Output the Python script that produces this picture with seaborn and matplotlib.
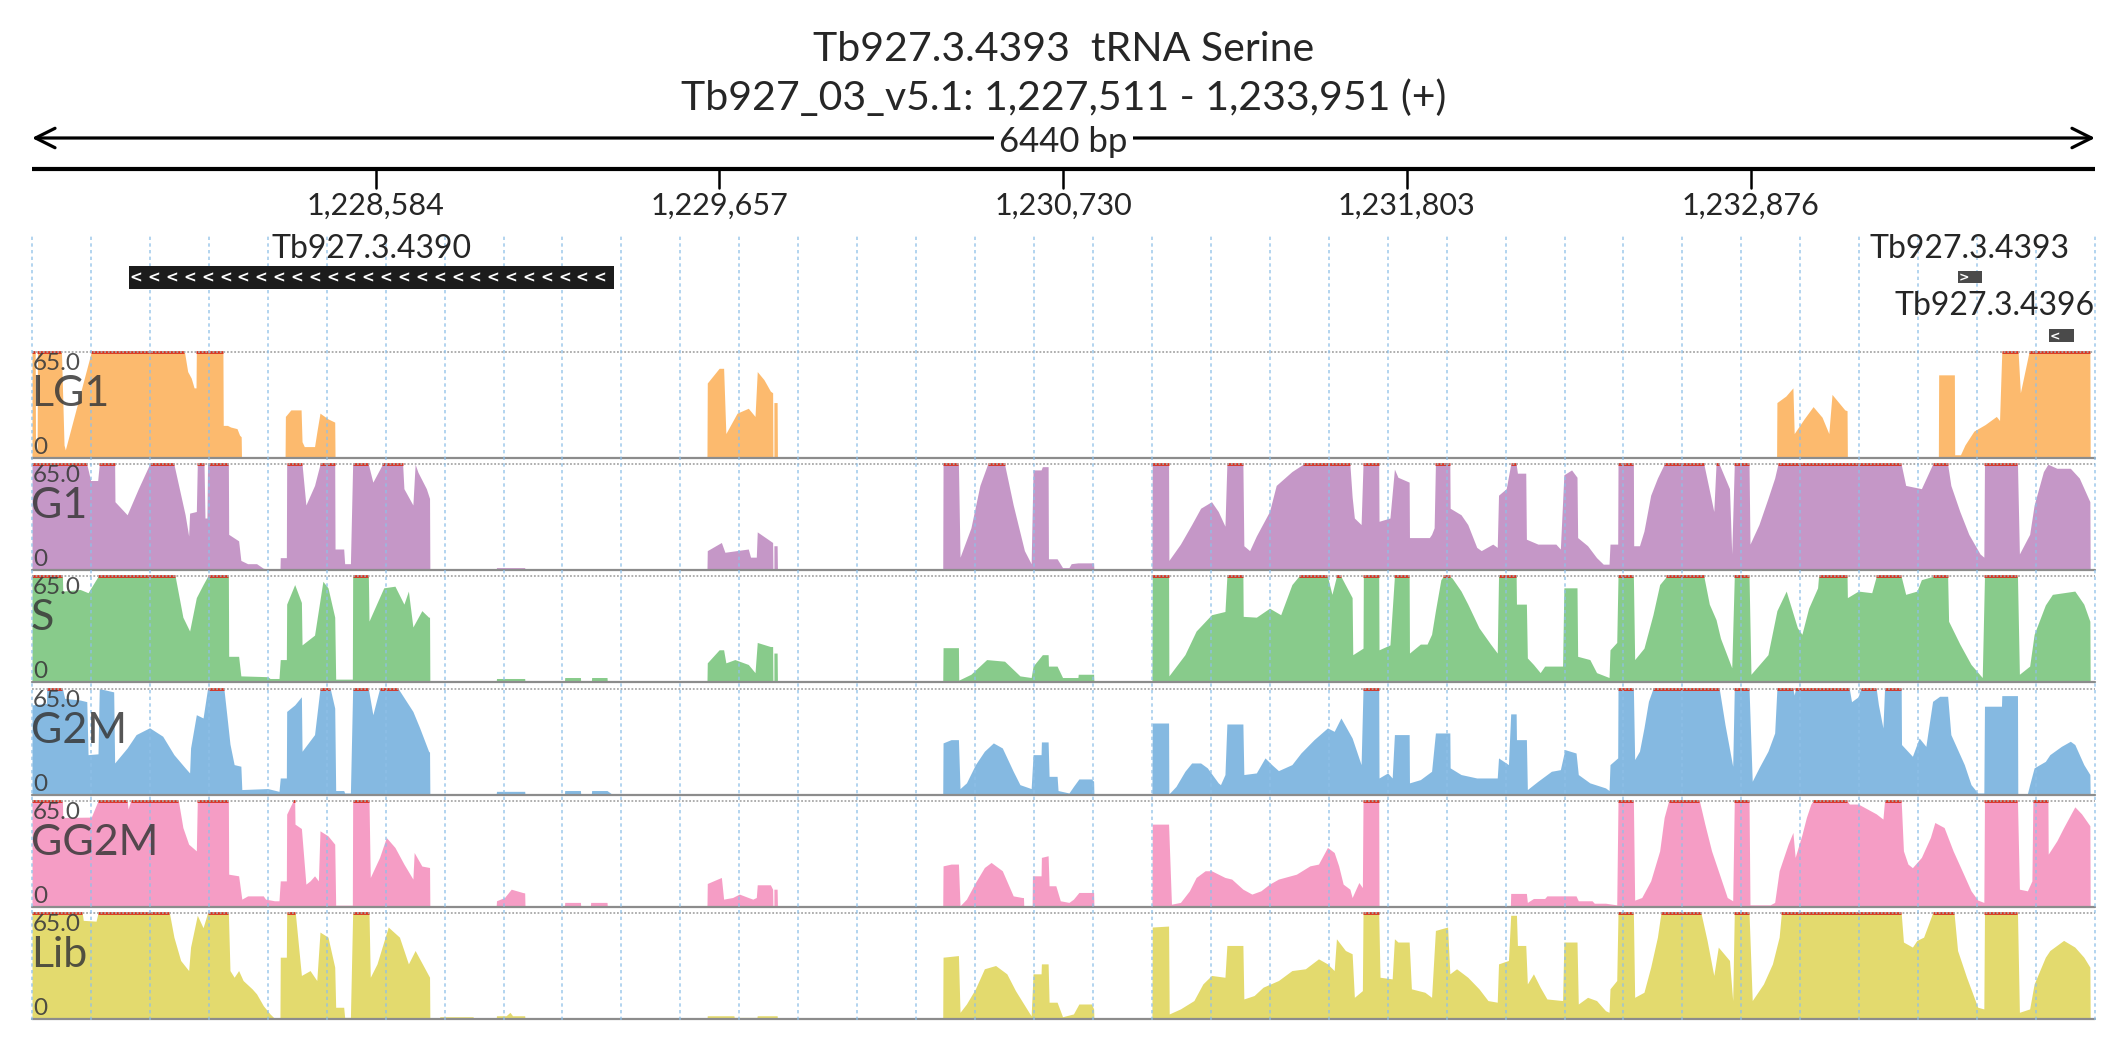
import numpy as np
import matplotlib
matplotlib.use("Agg")
import matplotlib.pyplot as plt
import seaborn as sns

sns.set_style("white")
plt.rcParams['font.family'] = ['Lato', 'DejaVu Sans']

# region shown
START, END = 1227511, 1233951
SPAN = END - START
title_1 = "Tb927.3.4393  tRNA Serine"
title_2 = "Tb927_03_v5.1: 1,227,511 - 1,233,951 (+)"
tick_coords = [1228584, 1229657, 1230730, 1231803, 1232876]

# genes
gene_names = ["Tb927.3.4390", "Tb927.3.4393", "Tb927.3.4396"]
gene_start = [1227814, 1233523, 1233808]
gene_end = [1229328, 1233598, 1233886]
gene_strand = ["-", "+", "-"]

# coverage tracks: (bp offset from START, coverage), max shown 65
track_names = ["LG1", "G1", "S", "G2M", "GG2M", "Lib"]
track_colors = ["#fcb766", "#c292c4", "#82c985", "#7eb6e0", "#f598c2", "#e2d866"]

lg1 = [(0, 65), (10, 65), (11, 5), (16, 5), (17, 65), (92, 65), (100, 8), (104, 5), (185, 65), (476, 65),
       (486, 53), (497, 49), (506, 43), (512, 43), (513, 65),
       (596, 65), (597, 20), (610, 20), (620, 19), (640, 18), (648, 14), (653, 13), (654, 0),
       (790, 0), (791, 25.5), (808, 29.5), (840, 29.5), (843, 10), (850, 7), (882, 7), (890, 17), (899, 27.5),
       (924, 24), (945, 22), (946, 0),
       (2107, 0), (2108, 46), (2145, 55), (2159, 55), (2166, 15), (2201, 27.5), (2236, 30.5), (2257, 25.5),
       (2264, 53), (2285, 48), (2305, 41), (2312, 40), (2313, 0), (2316, 0), (2316, 34), (2326, 34), (2327, 0),
       (5446, 0), (5447, 34), (5475, 38), (5497, 43), (5501, 15), (5532, 24), (5560, 31.5), (5588, 25),
       (5609, 15), (5619, 39), (5659, 29.5), (5666, 29), (5667, 0),
       (5951, 0), (5952, 51), (6001, 51), (6002, 2), (6020, 2), (6034, 8), (6062, 16.5), (6097, 20.5),
       (6132, 25.5), (6142, 23), (6149, 65), (6200, 65), (6207, 40), (6234, 65), (6424, 65), (6425, 0)]

g1 = [(0, 65), (171, 65), (183, 55), (205, 55), (210, 65), (258, 65), (259, 42), (297, 34), (332, 50), (367, 65),
      (443, 65), (478, 34), (489, 21), (492, 35), (513, 36), (516, 65), (537, 65), (540, 32), (546, 32), (548, 65),
      (613, 65), (614, 22), (645, 18), (652, 6), (673, 4), (701, 4), (722, 1.2), (729, 1), (730, 0),
      (774, 0), (775, 7.7), (794, 7.7), (795, 65), (843, 65), (855, 40), (882, 52), (899, 65), (945, 65),
      (946, 13), (973, 13), (976, 4), (994, 4), (1001, 65), (1050, 65), (1064, 54), (1094, 65), (1157, 65),
      (1161, 50), (1189, 40), (1196, 65), (1205, 60), (1231, 50), (1241, 44), (1242, 0),
      (1449, 0), (1450, 1.6), (1538, 1.6), (1539, 0),
      (2107, 0), (2108, 12), (2152, 17), (2163, 11), (2236, 13), (2243, 8), (2261, 8), (2264, 23.5), (2312, 17),
      (2313, 0), (2316, 0), (2316, 15), (2326, 15), (2327, 0),
      (2843, 0), (2844, 65), (2892, 65), (2897, 8), (2931, 26), (2959, 52), (2983, 65), (3036, 65), (3063, 40),
      (3098, 12), (3119, 4), (3125, 61.5), (3150, 61.5), (3154, 63.5), (3172, 63.5), (3173, 7), (3200, 7),
      (3217, 1.6), (3237, 1.6), (3244, 4), (3265, 4.5), (3314, 4.5), (3315, 0),
      (3496, 0), (3497, 65), (3548, 65), (3549, 6), (3585, 16), (3620, 28), (3648, 38), (3682, 42), (3703, 36),
      (3724, 27), (3730, 65), (3780, 65), (3783, 15), (3801, 12), (3822, 21), (3863, 36), (3884, 52),
      (3933, 60.5), (3968, 65), (4114, 65), (4121, 45), (4128, 32), (4149, 28), (4155, 65), (4204, 65),
      (4205, 30), (4239, 32), (4253, 62), (4264, 57), (4299, 54), (4300, 20), (4362, 20), (4369, 22),
      (4377, 26), (4381, 65), (4426, 65), (4427, 38), (4461, 34), (4482, 28), (4510, 14), (4524, 12),
      (4560, 16), (4574, 14), (4578, 46), (4602, 50), (4616, 65), (4633, 65), (4637, 59.5), (4663, 59.5),
      (4665, 19), (4701, 16), (4757, 16), (4771, 13), (4782, 58.5), (4806, 61.5), (4823, 57), (4825, 20),
      (4856, 15), (4884, 7.7), (4905, 3.7), (4923, 3.7), (4926, 16), (4950, 16), (4951, 65), (4999, 65),
      (5000, 15), (5018, 15), (5032, 24), (5053, 46), (5074, 56.5), (5095, 65), (5219, 65), (5233, 52),
      (5250, 36), (5257, 65), (5267, 65), (5299, 50), (5306, 10), (5314, 65), (5360, 65), (5363, 16),
      (5391, 28), (5419, 44), (5440, 56.5), (5450, 65), (5835, 65), (5849, 52), (5898, 50), (5933, 65),
      (5980, 65), (5990, 52), (6018, 36), (6046, 22), (6081, 10), (6093, 8), (6095, 65), (6198, 65),
      (6204, 10), (6236, 22), (6250, 40), (6279, 60.5), (6293, 65), (6321, 62.5), (6363, 62.5), (6391, 56.5),
      (6424, 42), (6425, 0)]

s = [(0, 65), (95, 65), (96, 56), (150, 57), (175, 55), (206, 65), (447, 65), (471, 40), (492, 31.5), (513, 52),
     (534, 60), (548, 65), (613, 65), (614, 16), (645, 16), (652, 4), (736, 3.5), (743, 2.4), (771, 2.4),
     (775, 14), (794, 14), (795, 48), (820, 60), (841, 49), (843, 23), (882, 29), (908, 62), (924, 58),
     (945, 40), (948, 2), (1000, 2), (1001, 65), (1050, 65), (1052, 37.6), (1098, 58), (1133, 59), (1161, 48),
     (1175, 56), (1189, 34), (1217, 44), (1238, 40), (1241, 40), (1242, 0),
     (1449, 0), (1450, 2.4), (1538, 2.4), (1539, 0), (1662, 0), (1663, 3), (1712, 3), (1713, 0),
     (1746, 0), (1747, 3), (1795, 3), (1796, 0),
     (2107, 0), (2108, 12), (2145, 20), (2159, 20), (2166, 12), (2194, 14), (2236, 11), (2257, 6), (2264, 24.5),
     (2305, 22), (2312, 22), (2313, 0), (2316, 0), (2316, 18), (2326, 18), (2327, 0),
     (2843, 0), (2844, 21.3), (2892, 21.3), (2893, 1.4), (2931, 5), (2980, 14), (3036, 13), (3084, 4),
     (3119, 3), (3125, 10), (3154, 17), (3172, 17), (3173, 10), (3200, 10), (3217, 3), (3265, 3), (3266, 5),
     (3314, 5), (3315, 0),
     (3496, 0), (3497, 65), (3548, 65), (3549, 4), (3599, 17), (3634, 31.5), (3682, 41.5), (3724, 43.5),
     (3730, 65), (3780, 65), (3781, 40.5), (3822, 40), (3863, 45.5), (3898, 41.5), (3933, 60), (3954, 65),
     (4044, 65), (4058, 54), (4072, 65), (4086, 65), (4121, 52), (4123, 17), (4155, 21), (4156, 65),
     (4204, 65), (4205, 20), (4239, 23), (4253, 65), (4299, 65), (4300, 18), (4334, 23.5), (4355, 23.5),
     (4369, 29.5), (4381, 44), (4398, 63), (4405, 65), (4426, 65), (4433, 64), (4461, 56), (4482, 48),
     (4517, 33.5), (4553, 23.5), (4574, 18), (4578, 65), (4633, 65), (4634, 48), (4665, 48), (4668, 15),
     (4687, 11), (4708, 6), (4722, 10), (4778, 10), (4782, 58), (4823, 58), (4825, 16), (4863, 14),
     (4884, 6), (4923, 3), (4926, 20), (4947, 24.5), (4951, 65), (4999, 65), (5003, 14), (5032, 21),
     (5060, 41.5), (5081, 60), (5102, 65), (5219, 65), (5236, 48), (5257, 38.5), (5271, 27), (5306, 9),
     (5314, 65), (5360, 65), (5366, 5), (5419, 17), (5447, 44), (5476, 56), (5511, 33.5), (5525, 29.5),
     (5546, 45.5), (5574, 58), (5577, 65), (5666, 65), (5667, 52), (5701, 56), (5743, 55), (5757, 65),
     (5835, 65), (5849, 54), (5884, 56), (5898, 63), (5933, 65), (5980, 65), (5983, 37.5), (6018, 23.5),
     (6053, 11), (6088, 3), (6095, 65), (6198, 65), (6204, 5), (6236, 10), (6250, 29.5), (6285, 47.5),
     (6307, 54), (6377, 56), (6405, 48), (6424, 37.5), (6425, 0)]

g2m = [(0, 55), (45, 56), (46, 65), (95, 65), (102, 59), (150, 58), (171, 57), (175, 24.5), (206, 25), (210, 65),
       (255, 63), (258, 19.4), (297, 28.6), (325, 36.8), (367, 41), (408, 35.8), (443, 24.5), (478, 16.4),
       (492, 13.3), (495, 28.6), (513, 49), (534, 47), (548, 65), (599, 65), (608, 49), (618, 31), (631, 18.4),
       (652, 17.4), (655, 3.1), (736, 3.7), (771, 2), (775, 10.2), (794, 10.2), (795, 51), (820, 55), (841, 60),
       (843, 26.6), (882, 36.8), (899, 65), (931, 65), (945, 53), (948, 2.5), (973, 2.5), (976, 1), (994, 1),
       (1001, 65), (1050, 65), (1064, 49), (1085, 65), (1143, 65), (1189, 51), (1210, 41), (1238, 26.6),
       (1241, 26), (1242, 0),
       (1449, 0), (1450, 2), (1538, 2), (1539, 0), (1662, 0), (1663, 2.5), (1712, 2.5), (1713, 0),
       (1746, 0), (1747, 2.5), (1795, 2.5), (1809, 0.5), (1810, 0),
       (2843, 0), (2844, 31.7), (2869, 33.7), (2892, 33.7), (2897, 3.7), (2917, 7.2), (2945, 18.4), (2973, 26.6),
       (3001, 31.7), (3029, 28.6), (3063, 14.3), (3084, 6.1), (3119, 3.7), (3125, 24.5), (3150, 24.5),
       (3151, 32.3), (3172, 32.3), (3175, 11.2), (3200, 11.2), (3203, 2.5), (3237, 1), (3251, 5), (3268, 9.6),
       (3307, 9.6), (3314, 8.2), (3315, 0),
       (3496, 0), (3497, 43.9), (3548, 43.9), (3549, 0.4), (3571, 5), (3599, 14.3), (3620, 19.4), (3648, 19.4),
       (3669, 16.4), (3703, 7.2), (3710, 6.1), (3724, 12.3), (3730, 43.3), (3780, 43.3), (3783, 12.3),
       (3822, 13.3), (3849, 22.5), (3870, 18.4), (3891, 14.7), (3933, 18.4), (3961, 25.5), (4002, 33.7),
       (4044, 40.9), (4065, 38.8), (4086, 47), (4121, 34.7), (4149, 18.4), (4155, 65), (4204, 65), (4205, 10.2),
       (4232, 13.3), (4246, 10.2), (4253, 36.8), (4299, 36.8), (4300, 7.2), (4334, 9.2), (4369, 14.3),
       (4381, 37.8), (4426, 37.8), (4427, 16.4), (4461, 12.3), (4510, 10.2), (4574, 10.2), (4578, 22.5),
       (4609, 18.4), (4616, 49.5), (4633, 49.5), (4634, 33.7), (4665, 33.7), (4668, 3.1), (4701, 8.2),
       (4743, 14.3), (4771, 15.3), (4785, 27.6), (4820, 25.5), (4827, 12.3), (4863, 7.2), (4912, 4.1),
       (4923, 2.5), (4926, 18.4), (4950, 22.5), (4951, 65), (4999, 65), (5003, 21.5), (5018, 26.6),
       (5032, 40.9), (5046, 57.2), (5060, 65), (5267, 65), (5285, 42.9), (5309, 17.4), (5314, 65), (5360, 65),
       (5370, 8.2), (5391, 16.4), (5419, 26.6), (5440, 37.8), (5447, 65), (5497, 65), (5501, 61), (5505, 65),
       (5673, 65), (5680, 57), (5701, 60), (5708, 65), (5757, 65), (5764, 55), (5778, 40.9), (5783, 65),
       (5835, 65), (5836, 30.7), (5870, 23.5), (5891, 34.7), (5912, 29.6), (5933, 57.2), (5955, 60.3),
       (5980, 60.3), (5990, 36.8), (6011, 27.6), (6032, 18.4), (6053, 6.1), (6074, 1), (6093, 1), (6095, 54.2),
       (6148, 54.2), (6149, 60.7), (6198, 60.7), (6199, 0.6), (6229, 0.6), (6236, 6.1), (6250, 16.4),
       (6285, 20.4), (6299, 24.5), (6335, 29.6), (6363, 32.7), (6377, 30.7), (6405, 18.4), (6424, 12.3),
       (6425, 0)]

gg2m = [(0, 65), (95, 65), (96, 54.8), (185, 55), (206, 65), (297, 65), (300, 60), (308, 65), (457, 65),
        (471, 48.6), (489, 38.4), (513, 34.3), (516, 65), (613, 65), (614, 20), (645, 19), (655, 4.7),
        (673, 6.7), (722, 6.7), (729, 4.7), (757, 3.7), (771, 3.7), (775, 15.9), (794, 15.9), (795, 56.8),
        (815, 65), (820, 65), (821, 50.7), (841, 48), (855, 13.9), (868, 15.9), (882, 19), (894, 15.9),
        (899, 46.6), (924, 43.5), (945, 38.4), (948, 1), (1000, 1), (1001, 65), (1052, 65), (1056, 18),
        (1085, 30.3), (1106, 42.5), (1133, 36.4), (1161, 26.2), (1189, 17), (1193, 33.3), (1217, 25),
        (1241, 24.1), (1242, 0),
        (1449, 0), (1450, 3.7), (1475, 5.7), (1496, 10.8), (1531, 8.8), (1538, 8.5), (1539, 0),
        (1662, 0), (1663, 2.7), (1712, 2.7), (1713, 0), (1743, 0), (1744, 2.7), (1795, 2.7), (1796, 0),
        (2107, 0), (2108, 14.3), (2152, 18), (2159, 4.7), (2187, 5.7), (2208, 7.8), (2236, 5.7), (2250, 4.7),
        (2261, 5.7), (2264, 13.5), (2305, 13.5), (2312, 10.8), (2313, 0), (2316, 0), (2316, 10.8), (2326, 10.8),
        (2327, 0),
        (2843, 0), (2844, 25.1), (2869, 26.2), (2892, 26.2), (2897, 0.6), (2917, 4.7), (2945, 14.9),
        (2973, 24.1), (2994, 27.2), (3029, 22.1), (3063, 6.7), (3091, 5.7), (3095, 5.7), (3096, 0), (3122, 0),
        (3123, 19), (3150, 19), (3151, 30.3), (3172, 31.3), (3175, 12.9), (3196, 12.9), (3210, 3.7),
        (3237, 2.7), (3251, 4.7), (3268, 8.8), (3314, 8.8), (3315, 0),
        (3496, 0), (3497, 50.7), (3548, 50.7), (3557, 1.6), (3585, 2.7), (3613, 9.8), (3634, 18), (3662, 22.1),
        (3682, 22.1), (3724, 18), (3745, 17), (3780, 10.8), (3808, 7.8), (3836, 9.8), (3863, 13.9), (3891, 17),
        (3947, 20), (3989, 25.1), (4016, 26.2), (4044, 36.4), (4065, 33.3), (4079, 25.1), (4093, 13.9),
        (4114, 10.8), (4121, 5.7), (4142, 14.9), (4153, 11.8), (4155, 65), (4204, 65), (4205, 0),
        (4615, 0), (4616, 8.2), (4665, 8.2), (4668, 2.7), (4687, 5.1), (4722, 5.1), (4729, 6.7), (4820, 6.7),
        (4827, 3.7), (4870, 3.7), (4877, 2.2), (4912, 2.2), (4947, 1.2), (4951, 65), (4999, 65), (5003, 4.1),
        (5025, 5.7), (5053, 15.9), (5081, 34.3), (5095, 54.8), (5109, 65), (5205, 65), (5222, 50.7),
        (5243, 34.3), (5264, 22.1), (5292, 5.7), (5309, 3.7), (5314, 65), (5360, 65), (5363, 1.2), (5426, 1.2),
        (5440, 2.7), (5454, 22.1), (5482, 38.4), (5497, 45.6), (5504, 30.3), (5525, 44.1), (5539, 54.8),
        (5553, 63), (5560, 65), (5666, 65), (5673, 63), (5701, 63), (5729, 60), (5757, 57), (5778, 53.8),
        (5783, 65), (5835, 65), (5842, 34.3), (5856, 26.2), (5870, 24), (5898, 30.3), (5926, 42.5),
        (5940, 51.7), (5969, 48.6), (5997, 34.3), (6025, 22.1), (6053, 9.8), (6074, 4.1), (6093, 2.7),
        (6095, 65), (6198, 65), (6204, 10.8), (6229, 9.8), (6243, 15.9), (6246, 65), (6293, 65), (6294, 32.3),
        (6321, 40.5), (6342, 48.6), (6377, 61.3), (6398, 57), (6424, 49.7), (6425, 0)]

lib = [(0, 65), (157, 65), (160, 60.5), (200, 60), (206, 65), (429, 65), (443, 50.2), (464, 35.9), (489, 29.7),
       (495, 44.1), (516, 63.6), (534, 56), (548, 65), (613, 65), (618, 29.7), (631, 25.6), (645, 29.7),
       (659, 23.6), (687, 18.5), (701, 15.4), (722, 8.2), (743, 3.1), (757, 0.4), (758, 0), (774, 0),
       (775, 37.9), (794, 37.9), (795, 65), (822, 65), (841, 26.7), (868, 29.7), (889, 23.6), (899, 53.3),
       (924, 50.2), (945, 31.8), (948, 7.2), (973, 7.2), (976, 1), (994, 1), (1001, 65), (1052, 65),
       (1056, 25.6), (1077, 33.8), (1112, 56.4), (1147, 50.2), (1175, 33.8), (1196, 42), (1224, 31.8),
       (1241, 25.6), (1242, 0),
       (1272, 0), (1273, 1.4), (1377, 1.4), (1378, 0), (1449, 0), (1450, 2), (1480, 2), (1492, 4.1), (1500, 2),
       (1538, 2), (1539, 0),
       (2107, 0), (2108, 2), (2191, 2), (2192, 1), (2263, 1), (2264, 2), (2326, 2), (2327, 0),
       (2843, 0), (2844, 37.9), (2892, 38.9), (2897, 4.1), (2917, 9.2), (2945, 18.5), (2973, 30.8), (3008, 32.8),
       (3043, 27.7), (3070, 17.4), (3112, 4.1), (3119, 2), (3125, 27.7), (3150, 27.7), (3151, 33.8),
       (3172, 33.8), (3175, 10.3), (3200, 10.3), (3217, 1.4), (3251, 3.1), (3268, 9.2), (3307, 9.2),
       (3314, 6.2), (3315, 0),
       (3496, 0), (3497, 56.4), (3548, 57), (3550, 3.1), (3585, 6.2), (3627, 11.3), (3655, 21.5), (3682, 26.7),
       (3724, 25.6), (3730, 45.1), (3780, 45.1), (3783, 12.3), (3815, 14.4), (3843, 19.5), (3891, 23.6),
       (3933, 29.7), (3975, 30.8), (4016, 36.9), (4044, 33.8), (4065, 29.7), (4072, 49.2), (4100, 42),
       (4121, 40), (4128, 13.3), (4153, 17.4), (4155, 65), (4204, 65), (4208, 25.6), (4246, 24.6), (4253, 49.2),
       (4264, 47.2), (4299, 47.2), (4306, 18.5), (4348, 16.4), (4369, 13.3), (4381, 54.3), (4419, 56.4),
       (4426, 27.7), (4447, 30.8), (4482, 25.6), (4517, 18.5), (4545, 11.3), (4574, 10.3), (4578, 33.8),
       (4609, 35.9), (4616, 63.6), (4634, 63.6), (4637, 45.1), (4663, 45.1), (4668, 21.5), (4687, 27.7),
       (4708, 19.5), (4729, 12.3), (4778, 11.3), (4782, 47.2), (4823, 47.2), (4827, 9.2), (4856, 13.3),
       (4884, 11.3), (4912, 5.1), (4923, 4.1), (4926, 18.5), (4947, 23.6), (4951, 65), (4999, 65), (5003, 13.3),
       (5032, 16.4), (5053, 31.8), (5074, 50.2), (5085, 65), (5210, 65), (5229, 48.2), (5250, 26.7),
       (5264, 44.1), (5299, 35.9), (5309, 11.3), (5314, 65), (5360, 65), (5370, 11.3), (5405, 21.5),
       (5433, 33.8), (5454, 50.2), (5461, 65), (5835, 65), (5842, 47.2), (5870, 44.1), (5884, 48.2),
       (5905, 50.2), (5933, 65), (6000, 65), (6011, 42), (6039, 25.6), (6074, 7.2), (6093, 6.2), (6095, 65),
       (6198, 65), (6204, 4.1), (6236, 6.2), (6250, 21.5), (6285, 37.9), (6299, 42), (6342, 48.2),
       (6377, 44.1), (6405, 37.9), (6424, 31.8), (6425, 0)]

tracks = [lg1, g1, s, g2m, gg2m, lib]
YMAX = 65

# layout in pixels
W, H = 2126, 1058
X0, X1 = 32, 2095
TRACK_TOP0, TRACK_PITCH, TRACK_H = 352, 112.2, 106

fig = plt.figure(figsize=(W / 100, H / 100), dpi=100)


def px_axes(x0, y0, x1, y1):
    return fig.add_axes([x0 / W, 1 - y1 / H, (x1 - x0) / W, (y1 - y0) / H])


# header: title and ruler
hdr = px_axes(X0, 0, X1, 350)
hdr.set_xlim(0, SPAN)
hdr.set_ylim(350, 0)
hdr.axis('off')

hdr.text(SPAN / 2, 61, title_1, ha='center', va='baseline', fontsize=29.5)
hdr.text(SPAN / 2, 110, title_2, ha='center', va='baseline', fontsize=29.5)

hdr.annotate('', xy=(0, 138), xytext=(SPAN, 138),
             arrowprops=dict(arrowstyle='<->,head_length=0.7,head_width=0.35', lw=2.3,
                             color='black', shrinkA=0, shrinkB=0, mutation_scale=20))
hdr.text(SPAN / 2, 152, f"{SPAN} bp", ha='center', va='baseline', fontsize=25,
         bbox=dict(fc='white', ec='none', pad=4))

hdr.plot([0, SPAN], [169, 169], color='black', lw=3, solid_capstyle='butt')
for t in tick_coords:
    hdr.plot([t - START, t - START], [169, 188], color='black', lw=1.8)
    hdr.text(t - START, 215, f"{t:,}", ha='center', va='baseline', fontsize=22)

# coverage tracks
for i, (name, data, col) in enumerate(zip(track_names, tracks, track_colors)):
    top = TRACK_TOP0 + i * TRACK_PITCH
    ax = px_axes(X0, top, X1, top + TRACK_H)
    ax.set_xlim(0, SPAN)
    ax.set_ylim(0, YMAX)
    ax.axis('off')
    pos = np.array([p for p, _ in data], dtype=float)
    val = np.array([v for _, v in data], dtype=float)
    ax.fill_between(pos, 0, np.minimum(val, YMAX), color=col, lw=0, alpha=0.95)
    clip = np.where(val >= YMAX, YMAX, np.nan)
    ax.plot(pos, clip, color='#d7301f', lw=2.0, clip_on=False, solid_capstyle='butt')
    ax.axhline(YMAX, color='#a8a8a8', lw=1.3, ls=(0, (1, 1)), clip_on=False)
    ax.axhline(0, color='#8c8c8c', lw=1.6, clip_on=False)
    fig.text(33 / W, 1 - (top + 18) / H, "65.0", ha='left', va='baseline', fontsize=17.5,
             color='#3c3c3c', alpha=0.9)
    fig.text(33 / W, 1 - (top + 102) / H, "0", ha='left', va='baseline', fontsize=17.5,
             color='#3c3c3c', alpha=0.9)
    fig.text(31 / W, 1 - (top + 54) / H, name, ha='left', va='baseline', fontsize=31,
             color='#383838', alpha=0.85)

# dotted vertical guide lines over the tracks
grid = px_axes(X0, 236, X1, 1020)
grid.set_xlim(0, SPAN)
grid.set_ylim(1020, 236)
grid.axis('off')
grid.patch.set_alpha(0)
for gx in np.arange(0, SPAN + 1, SPAN / 35):
    grid.axvline(gx, color='#8fc0e8', lw=1.2, ls=(0, (2, 2)), alpha=0.8, clip_on=False)

# gene features drawn above the guide lines
gax = px_axes(X0, 236, X1, 350)
gax.set_xlim(0, SPAN)
gax.set_ylim(350, 236)
gax.axis('off')
gax.patch.set_alpha(0)
gene_rows = [(277, 23, 258), (277, 12, 258), (335.5, 13, 315)]
gene_fill = ['#1c1c1c', '#4a4a4a', '#4a4a4a']
for name, g0, g1_, strand, (yc, hgt, ylab), fc in zip(gene_names, gene_start, gene_end, gene_strand,
                                                     gene_rows, gene_fill):
    a, b = g0 - START, g1_ - START
    gax.barh(yc, b - a, left=a, height=hgt, color=fc, edgecolor='none')
    mid = (a + b) / 2
    if mid + 300 > SPAN:
        gax.text(SPAN, ylab, name, ha='right', va='baseline', fontsize=23)
    else:
        gax.text(mid, ylab, name, ha='center', va='baseline', fontsize=23)
    chev = '<' if strand == '-' else '>'
    if b - a > 300:
        for cx in np.arange(a + 22, b - 10, 55.7):
            gax.text(cx, yc + 1, chev, ha='center', va='center', fontsize=11, color='white',
                     fontweight='bold', family='DejaVu Sans')
    else:
        gax.text(a + 18, yc + 1, chev, ha='center', va='center', fontsize=9, color='white',
                 fontweight='bold', family='DejaVu Sans')

fig.savefig("out.png", dpi=100, facecolor='white')
